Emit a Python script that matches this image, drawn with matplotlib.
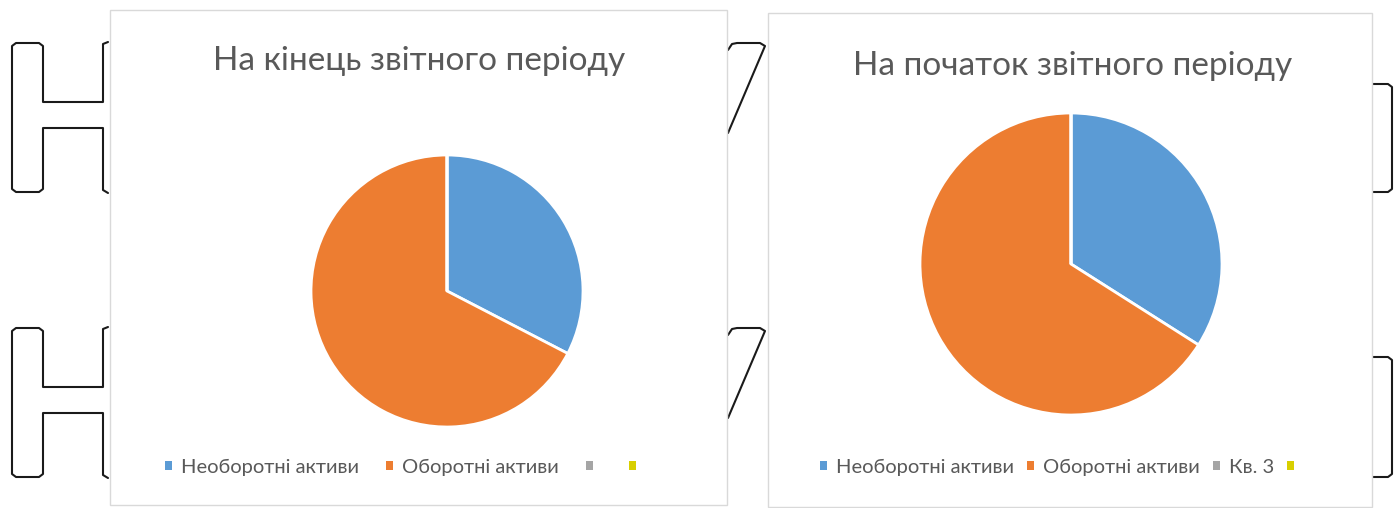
import matplotlib
matplotlib.use('Agg')
import matplotlib.pyplot as plt
from matplotlib.patches import Rectangle
from matplotlib.lines import Line2D

# Asset structure, end and start of the reporting period (shares, %)
labels_end = ['Необоротні активи', 'Оборотні активи', '', '']
values_end = [32.6, 67.4, 0, 0]
labels_start = ['Необоротні активи', 'Оборотні активи', 'Кв. 3', '']
values_start = [34, 66, 0, 0]
title_end = 'На кінець звітного періоду'
title_start = 'На початок звітного періоду'

colors = ['#5B9BD5', '#ED7D31', '#A5A5A5', '#D8CF00']
text_color = '#595959'
font = ['Lato', 'DejaVu Sans']

W, H = 1400, 508

def fx(x):
    return x / W

def fy(y):
    return 1 - y / H

fig = plt.figure(figsize=(W / 100, H / 100), dpi=100)
fig.patch.set_facecolor('white')

# outline letters of the page underneath the charts
def outline(points, dy=0):
    xs = [fx(p[0]) for p in points]
    ys = [fy(p[1] + dy) for p in points]
    fig.add_artist(Line2D(xs, ys, color='#1a1a1a', lw=1.5, zorder=0.5,
                          solid_joinstyle='round', solid_capstyle='round'))

letter_h = [(108, 42), (103, 44), (103, 102), (43, 102), (43, 46), (39, 43),
            (16, 43), (12, 46), (12, 189), (16, 192), (39, 192), (43, 189),
            (43, 128), (103, 128), (103, 190), (108, 193)]
letter_7 = [(728, 50), (732, 44), (737, 43), (760, 43), (765, 46), (728, 133)]
for dy in (0, 285):
    outline(letter_h, dy)
    outline(letter_7, dy)
outline([(1372, 84), (1388, 84), (1392, 87), (1392, 189), (1388, 192), (1372, 192)])
outline([(1372, 357), (1388, 357), (1392, 360), (1392, 474), (1388, 477), (1372, 477)])

# chart frames
for x0, y0, x1, y1 in [(110, 10, 727, 505), (768, 13, 1372, 507)]:
    fig.add_artist(Rectangle((fx(x0), fy(y1)), (x1 - x0) / W, (y1 - y0) / H,
                             transform=fig.transFigure, facecolor='white',
                             edgecolor='#d9d9d9', lw=1, zorder=1))


def draw_pie(cx, cy, r, values, labels, title, title_x, title_y,
             legend_x, legend_y, colsp):
    ax = fig.add_axes([fx(cx - r), fy(cy + r), 2 * r / W, 2 * r / H])
    ax.set_zorder(3)
    wedges, _ = ax.pie(values, colors=colors, startangle=90, counterclock=False,
                       wedgeprops=dict(edgecolor='white', linewidth=2))
    ax.set_xlim(-1, 1)
    ax.set_ylim(-1, 1)
    fig.text(fx(title_x), fy(title_y), title, ha='center', va='baseline',
             fontsize=24, color=text_color, family=font, zorder=4)
    leg = ax.legend(wedges, labels, loc='center left',
                    bbox_to_anchor=(fx(legend_x), fy(legend_y)),
                    bbox_transform=fig.transFigure, ncol=4, frameon=False,
                    handlelength=0.35, handleheight=0.35,
                    handletextpad=0.45, columnspacing=colsp, borderpad=0,
                    borderaxespad=0, prop={'family': font, 'size': 14.5})
    for t in leg.get_texts():
        t.set_color(text_color)
    for h in leg.legend_handles:
        h.set_edgecolor('none')
    return ax


draw_pie(447, 291, 136, values_end, labels_end, title_end, 419, 70, 164.5, 467, 1.35)
draw_pie(1071, 264, 151, values_start, labels_start, title_start, 1073, 75, 819.5, 467, 0.65)

fig.savefig('out.png', dpi=100)
